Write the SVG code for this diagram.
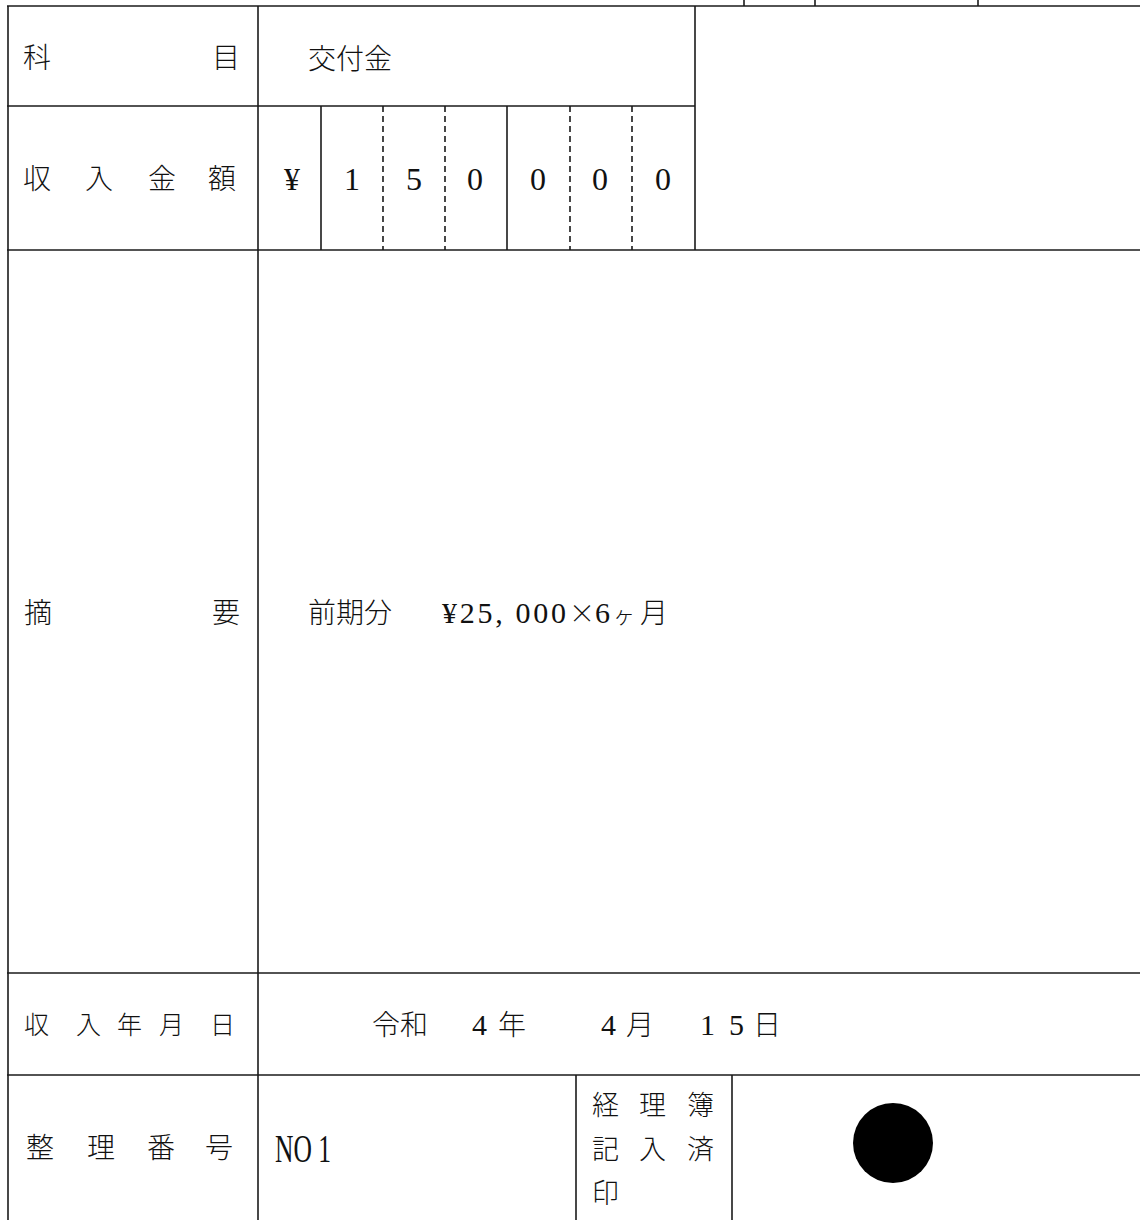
<svg xmlns="http://www.w3.org/2000/svg" width="1140" height="1220" viewBox="0 0 1140 1220">
<style>
.ln{stroke:#1a1a1a;stroke-width:1.6;fill:none}
.dash{stroke:#1a1a1a;stroke-width:1.6;fill:none;stroke-dasharray:6 4}
.jp{font-family:"Noto Sans CJK JP","Noto Sans CJK SC",sans-serif;font-size:28px;fill:#111;font-weight:300}
.num{font-family:"Liberation Serif","Noto Sans CJK JP",serif;font-size:32px;fill:#111}
</style>
<rect width="1140" height="1220" fill="#ffffff"/>
<g id="grid">
  <line class="ln" x1="744" y1="0" x2="744" y2="6"/>
  <line class="ln" x1="815" y1="0" x2="815" y2="6"/>
  <line class="ln" x1="978" y1="0" x2="978" y2="6"/>
  <line class="ln" x1="7" y1="6" x2="1140" y2="6"/>
  <line class="ln" x1="8" y1="6" x2="8" y2="1220"/>
  <line class="ln" x1="258" y1="6" x2="258" y2="1220"/>
  <line class="ln" x1="695" y1="6" x2="695" y2="250"/>
  <line class="ln" x1="7" y1="106" x2="695" y2="106"/>
  <line class="ln" x1="7" y1="250" x2="1140" y2="250"/>
  <line class="ln" x1="7" y1="973" x2="1140" y2="973"/>
  <line class="ln" x1="7" y1="1075" x2="1140" y2="1075"/>
  <line class="ln" x1="576" y1="1075" x2="576" y2="1220"/>
  <line class="ln" x1="732" y1="1075" x2="732" y2="1220"/>
  <line class="ln" x1="321" y1="106" x2="321" y2="250"/>
  <line class="dash" x1="383" y1="106" x2="383" y2="250"/>
  <line class="dash" x1="445" y1="106" x2="445" y2="250"/>
  <line class="ln" x1="507" y1="106" x2="507" y2="250"/>
  <line class="dash" x1="570" y1="106" x2="570" y2="250"/>
  <line class="dash" x1="632" y1="106" x2="632" y2="250"/>
</g>
<g id="row-kamoku">
  <text class="jp" x="23" y="68">科</text>
  <text class="jp" x="212" y="68">目</text>
  <text class="jp" x="308" y="69">交付金</text>
</g>
<g id="row-amount">
  <text class="jp" x="23" y="189">収</text>
  <text class="jp" x="85" y="189">入</text>
  <text class="jp" x="148" y="189">金</text>
  <text class="jp" x="208" y="189">額</text>
  <text class="num" x="292" y="190" text-anchor="middle">¥</text>
  <text class="num" x="352" y="190" text-anchor="middle">1</text>
  <text class="num" x="414" y="190" text-anchor="middle">5</text>
  <text class="num" x="475" y="190" text-anchor="middle">0</text>
  <text class="num" x="538" y="190" text-anchor="middle">0</text>
  <text class="num" x="600" y="190" text-anchor="middle">0</text>
  <text class="num" x="663" y="190" text-anchor="middle">0</text>
</g>
<g id="row-tekiyo">
  <text class="jp" x="24" y="623">摘</text>
  <text class="jp" x="212" y="623">要</text>
  <text class="jp" x="308" y="623">前期分</text>
  <text class="num" y="623" style="font-size:30px"><tspan x="442" textLength="124" lengthAdjust="spacing">¥25, 000</tspan><tspan x="569" style="font-family:'Noto Sans CJK JP',sans-serif;font-size:26px;font-weight:300">×</tspan><tspan x="595">6</tspan><tspan x="613" style="font-family:'Noto Sans CJK JP',sans-serif;font-size:22px;font-weight:300">ヶ</tspan><tspan x="640" style="font-family:'Noto Sans CJK JP',sans-serif;font-size:28px;font-weight:300">月</tspan></text>
</g>
<g id="row-date">
  <text class="jp" x="24" y="1034" style="font-size:25px">収</text>
  <text class="jp" x="76" y="1034" style="font-size:25px">入</text>
  <text class="jp" x="117" y="1034" style="font-size:25px">年</text>
  <text class="jp" x="159" y="1034" style="font-size:25px">月</text>
  <text class="jp" x="210" y="1034" style="font-size:25px">日</text>
  <text class="jp" x="372" y="1035">令和</text>
  <text class="num" x="472" y="1035" style="font-size:30px">4</text>
  <text class="jp" x="498" y="1035">年</text>
  <text class="num" x="601" y="1035" style="font-size:30px">4</text>
  <text class="jp" x="626" y="1035">月</text>
  <text class="num" x="700" y="1035" style="font-size:30px">1</text>
  <text class="num" x="729" y="1035" style="font-size:30px">5</text>
  <text class="jp" x="753" y="1035">日</text>
</g>
<g id="row-seiri">
  <text class="jp" x="26" y="1158">整</text>
  <text class="jp" x="87" y="1158">理</text>
  <text class="jp" x="147" y="1158">番</text>
  <text class="jp" x="205" y="1158">号</text>
  <text class="num" x="275" y="1162" style="font-size:40px" textLength="56" lengthAdjust="spacingAndGlyphs">NO 1</text>
</g>
<g id="stamp-label">
  <text class="jp" x="592" y="1115" style="font-size:27px">経</text>
  <text class="jp" x="639" y="1115" style="font-size:27px">理</text>
  <text class="jp" x="687" y="1115" style="font-size:27px">簿</text>
  <text class="jp" x="592" y="1159" style="font-size:27px">記</text>
  <text class="jp" x="639" y="1159" style="font-size:27px">入</text>
  <text class="jp" x="687" y="1159" style="font-size:27px">済</text>
  <text class="jp" x="592" y="1203" style="font-size:27px">印</text>
</g>
<g id="stamp">
  <circle cx="893" cy="1143" r="40" fill="#000"/>
</g>
</svg>
